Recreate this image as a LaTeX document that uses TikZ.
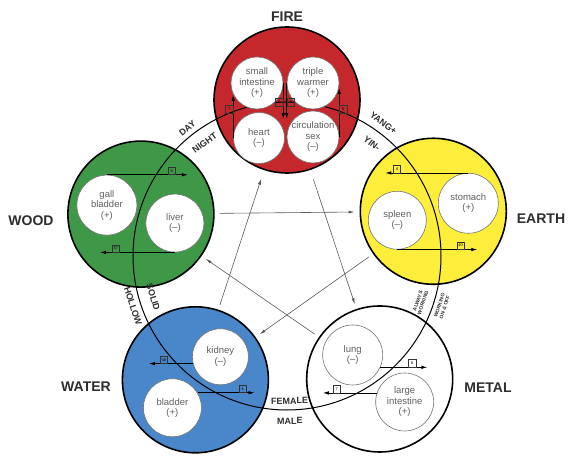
\documentclass[tikz,border=0pt]{standalone}
\usepackage{fontspec}
\setmainfont{Liberation Sans}
\usetikzlibrary{arrows.meta}

\definecolor{firered}{RGB}{197,40,44}
\definecolor{earthyellow}{RGB}{252,238,58}
\definecolor{woodgreen}{RGB}{62,152,72}
\definecolor{waterblue}{RGB}{74,134,202}
\definecolor{labelgray}{RGB}{45,45,45}
\definecolor{organgray}{RGB}{95,95,95}

\tikzset{
  elem/.style={circle, draw=black, line width=1.6pt, minimum size=146pt, inner sep=0pt},
  organ/.style={circle, draw=black!55, line width=0.6pt, fill=white, minimum size=#1, inner sep=0pt},
  organtxt/.style={align=center, text=organgray, inner sep=0pt, font=\fontsize{9.5}{10.5}\selectfont},
  elemname/.style={text=labelgray, font=\fontsize{14}{16}\selectfont\bfseries},
  arclbl/.style={text=labelgray, inner sep=0pt, font=\fontsize{9}{10}\selectfont\bfseries},
  tinylbl/.style={text=labelgray, align=center, inner sep=0pt, font=\fontsize{5}{5.5}\selectfont\bfseries},
  flow/.style={line width=0.8pt, -{Latex[length=6pt,width=3.5pt]}},
  ctrl/.style={black!65, line width=0.6pt, -{Latex[length=6pt,width=3pt]}, shorten >=5pt, shorten <=5pt},
  ptbox/.style={draw=black!80, line width=0.4pt, minimum size=7.5pt, inner sep=0pt, font=\fontsize{4}{4}\selectfont}
}

\begin{document}
\begin{tikzpicture}[x=1pt, y=1pt]
  \useasboundingbox (-287,-206) rectangle (282,256);
  \coordinate (c) at (0,0);

  % the five elements
  \path (c) ++(90:156) node[elem, fill=firered] (fire) {};
  \path (c) ++(17:153) node[elem, fill=earthyellow] (earth) {};
  \path (c) ++(-53:154) node[elem, fill=white] (metal) {};
  \path (c) ++(-126.5:154) node[elem, fill=waterblue] (water) {};
  \path (c) ++(164:152) node[elem, fill=woodgreen] (wood) {};

  \draw[line width=1pt] (c) circle (154);

  % organs
  \path (fire) ++(-30,17) node[organ=52pt] (smallint) {} node[organtxt] {small\\intestine\\(+)};
  \path (fire) ++(26,17) node[organ=52pt] (triple) {} node[organtxt] {triple\\warmer\\(+)};
  \path (fire) ++(-28,-38) node[organ=51pt] (heart) {} node[organtxt] {heart\\(--)};
  \path (fire) ++(26,-37) node[organ=52pt] (circ) {} node[organtxt] {circulation\\sex\\(--)};
  \path (wood) ++(-34,9) node[organ=60pt] (gall) {} node[organtxt] {gall\\bladder\\(+)};
  \path (wood) ++(34,-9) node[organ=58pt] (liver) {} node[organtxt] {liver\\(--)};
  \path (earth) ++(-36,-9) node[organ=58pt] (spleen) {} node[organtxt] {spleen\\(--)};
  \path (earth) ++(35,8) node[organ=60pt] (stomach) {} node[organtxt] {stomach\\(+)};
  \path (water) ++(25,23) node[organ=56pt] (kidney) {} node[organtxt] {kidney\\(--)};
  \path (water) ++(-23,-28) node[organ=58pt] (bladder) {} node[organtxt] {bladder\\(+)};
  \path (metal) ++(-27,24) node[organ=60pt] (lung) {} node[organtxt] {lung\\(--)};
  \path (metal) ++(25,-23) node[organ=58pt] (lint) {} node[organtxt] {large\\intestine\\(+)};

  % connecting points
  \draw[flow] (heart.west) -- ++(0,43) node[pos=.67, ptbox, left] {7};
  \draw[flow] (circ.east) -- ++(0,49) node[pos=.57, ptbox, right] {5};
  \draw[flow] (smallint.east) -- ++(0,-36) node[pos=.53, ptbox, left] {5};
  \draw[flow] (triple.west) -- ++(0,-36) node[pos=.53, ptbox, right] {6};
  \draw[flow] (gall.north) -- ++(81,0) node[pos=.8, ptbox, above] {5};
  \draw[flow] (liver.south) -- ++(-75,0) node[pos=.79, ptbox, above] {37};
  \draw[flow] (stomach.north) -- ++(-83,0) node[pos=.86, ptbox, above] {4};
  \draw[flow] (spleen.south) -- ++(80,0) node[pos=.79, ptbox, above] {40};
  \draw[flow] (kidney.194) -- ++(-44,0) node[pos=.66, ptbox, above] {58};
  \draw[flow] (bladder.31) -- ++(57,0) node[pos=.79, ptbox, above] {4};
  \draw[flow] (lung.-24) -- ++(47,0) node[pos=.68, ptbox, above] {6};
  \draw[flow] (lint.162) -- ++(-54,0) node[pos=.74, ptbox, above] {7};

  % control cycle
  \draw[ctrl] (wood) -- (earth);
  \draw[ctrl] (earth) -- (water);
  \draw[ctrl, shorten >=9pt] (water) -- (fire);
  \draw[ctrl, shorten <=10pt] (fire) -- (metal);
  \draw[ctrl] (metal) -- (wood);

  % labels on the circle
  \node[arclbl, rotate=38] at (128:162) {DAY};
  \node[arclbl, rotate=36] at (126:140) {NIGHT};
  \node[arclbl, rotate=-36] at (54:164) {YANG+};
  \node[arclbl, rotate=-37] at (53:141) {YIN-};
  \node[arclbl, rotate=-72] at (198:162) {HOLLOW};
  \node[arclbl, rotate=-73] at (197:140) {SOLID};
  \node[arclbl, rotate=1] at (-89:145) {FEMALE};
  \node[arclbl, rotate=1] at (-89:165) {MALE};
  \node[tinylbl, rotate=71] at (-19:141) {ALWAYS\\WORKING};
  \node[tinylbl, rotate=72] at (-18:163) {WORKING\\ON \& OFF};

  \node[elemname] at (0,239) {FIRE};
  \node[elemname] at (254,37) {EARTH};
  \node[elemname] at (201,-132) {METAL};
  \node[elemname] at (-201,-131) {WATER};
  \node[elemname] at (-256,35) {WOOD};
\end{tikzpicture}
\end{document}
